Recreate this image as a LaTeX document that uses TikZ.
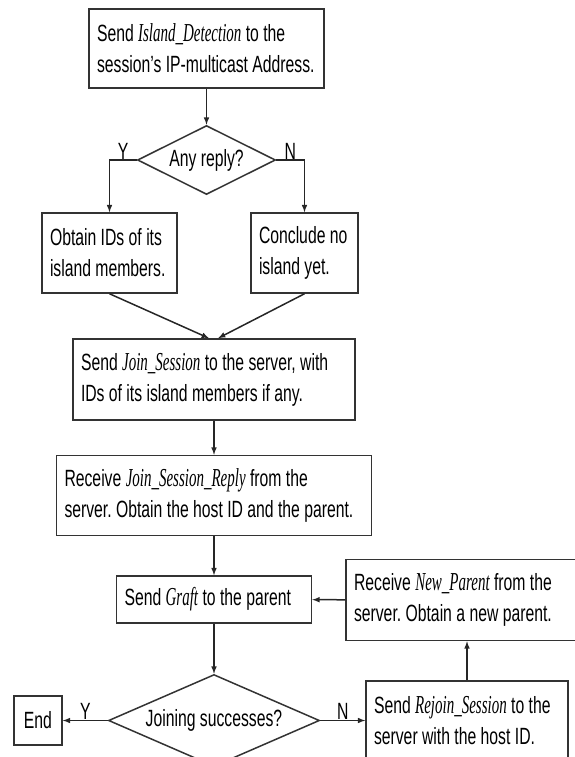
\documentclass[tikz,border=0pt]{standalone}
\usepackage{fontspec}
\setmainfont{Liberation Sans}[FakeStretch=0.67]
\newfontfamily\msgfont{Liberation Serif}[FakeStretch=0.58,Scale=1.1]
\usetikzlibrary{shapes.geometric,positioning}
\newcommand{\msg}[1]{{\msgfont\itshape #1}}
\newcommand{\boxfont}{\fontsize{23.5}{31}\selectfont\frenchspacing\hyphenpenalty=10000\relax}

\begin{document}
\begin{tikzpicture}[x=1pt,y=-1pt]
\tikzstyle{proc}=[rectangle, draw=black!80, line width=1.5pt, align=flush left, inner xsep=8pt, font=\boxfont, text=black]
\tikzstyle{decide}=[diamond, draw=black!80, line width=1.5pt, inner sep=0pt, font=\boxfont, text=black]
\tikzstyle{connect}=[-latex, line width=1.5pt, draw=black!85]
\tikzstyle{yn}=[font=\boxfont, inner sep=0pt, text=black]
  \useasboundingbox (0,0) rectangle (574,757);
  \node[proc, text width=219pt, minimum height=79pt] (detect) at (206.5,48.5) {Send \msg{Island\_Detection} to the\\session's IP-multicast Address.};
  \node[decide, aspect=2, minimum width=138pt, minimum height=69pt, below=36pt of detect] (anyreply) {Any reply?};
  \node[proc, text width=119pt, minimum height=80pt] (obtain) at (109.5,253) {Obtain IDs of its\\island members.};
  \node[proc, text width=91pt, minimum height=80pt] (conclude) at (304.5,253) {Conclude no\\island yet.};
  \node[proc, text width=266pt, minimum height=81pt] (join) at (214,379.5) {Send \msg{Join\_Session} to the server, with\\IDs of its island members if any.};
  \node[proc, text width=299pt, minimum height=80pt, below=34pt of join] (reply) {Receive \msg{Join\_Session\_Reply} from the\\server. Obtain the host ID and the parent.};
  \node[proc, text width=179pt, minimum height=47pt, below=39pt of reply] (graft) {Send \msg{Graft} to the parent};
  \node[decide, aspect=2.3, minimum width=211pt, minimum height=92pt, below=50pt of graft] (joining) {Joining successes?};
  \node[proc, align=center, inner xsep=4pt, minimum width=48pt, minimum height=49pt, left=45pt of joining] (endbox) {End};
  \node[proc, text width=186pt, minimum height=79pt, right=45pt of joining] (rejoin) {Send \msg{Rejoin\_Session} to the\\server with the host ID.};
  \node[proc, text width=226pt, minimum height=81pt, above=39pt of rejoin] (newparent) {Receive \msg{New\_Parent} from the\\server. Obtain a new parent.};
  \path (detect) edge [connect] (anyreply);
  \draw[connect] (anyreply.west) -| node[yn, pos=0.25, above] {Y} (obtain.north);
  \draw[connect] (anyreply.east) -| node[yn, pos=0.25, above] {N} (conclude.north);
  \draw[connect] (obtain.south) -- ([xshift=-5pt]join.north);
  \draw[connect] (conclude.south) -- ([xshift=4pt]join.north);
  \path (join) edge [connect] (reply);
  \path (reply) edge [connect] (graft);
  \path (graft) edge [connect] (joining);
  \draw[connect] (joining.west) -- node[yn, above] {Y} (endbox.east);
  \draw[connect] (joining.east) -- node[yn, above] {N} (rejoin.west);
  \path (rejoin) edge [connect] (newparent);
  \path (newparent) edge [connect] (graft);
\end{tikzpicture}
\end{document}
